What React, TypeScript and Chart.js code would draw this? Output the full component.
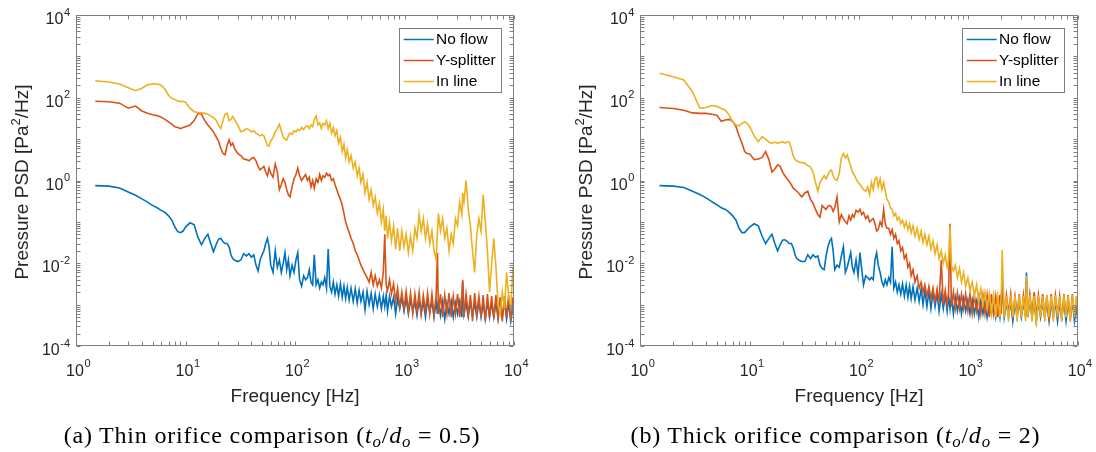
import React, { useEffect, useRef } from "react";
import { Chart, registerables } from "chart.js";

Chart.register(...registerables);

// Frequency grid (Hz) shared by all series
const FREQ = [
  1.5, 2, 2.5, 3, 3.5, 4, 4.5, 5, 5.5, 6,
  6.5, 7, 7.5, 8, 8.5, 9, 9.5, 10, 11, 12,
  13, 14, 15, 16, 17, 18, 19, 20, 21, 22,
  23, 24, 25, 26, 27, 28, 30, 32, 34, 36,
  38, 40, 42, 44, 46, 48, 50, 52, 54, 56,
  58, 60, 63, 66, 69, 72, 75, 78, 81, 84,
  87, 90, 94, 98, 102, 106, 110, 115, 120, 125,
  130, 135, 140, 145, 150, 156, 162, 168, 174, 180,
  187, 194, 201, 208, 216, 224, 232, 241, 250, 260,
  270, 280, 290, 300, 312, 325, 340, 355, 370, 385,
  400, 418, 436, 455, 475, 496, 518, 540, 565, 590,
  615, 640, 660, 680, 700, 730, 760, 795, 830, 865,
  905, 945, 990, 1035, 1085, 1135, 1190, 1245, 1300, 1360,
  1420, 1485, 1555, 1625, 1700, 1780, 1860, 1945, 2000, 2040,
  2130, 2230, 2330, 2440, 2550, 2670, 2790, 2920, 3050, 3190,
  3340, 3400, 3490, 3650, 3820, 4000, 4180, 4370, 4570, 4780,
  5000, 5230, 5470, 5720, 5980, 6250, 6540, 6840, 7150, 7480,
  7820, 8180, 8550, 8940, 9350, 9780, 10000,
];

// (a) Thin orifice
const THIN_NO_FLOW = [
  0.75, 0.73, 0.66, 0.53, 0.44, 0.36, 0.3, 0.25, 0.22, 0.19,
  0.17, 0.14, 0.11, 0.075, 0.058, 0.055, 0.06, 0.075, 0.095, 0.085,
  0.042, 0.028, 0.04, 0.05, 0.03, 0.019, 0.028, 0.038, 0.04, 0.033,
  0.03, 0.03, 0.025, 0.016, 0.013, 0.012, 0.011, 0.012, 0.017, 0.015,
  0.017, 0.014, 0.016, 0.009, 0.0065, 0.012, 0.016, 0.02, 0.03, 0.04,
  0.025, 0.009, 0.006, 0.02, 0.008, 0.012, 0.006, 0.01, 0.018, 0.007,
  0.012, 0.005, 0.009, 0.006, 0.012, 0.018, 0.004, 0.0028, 0.005, 0.004,
  0.0045, 0.007, 0.0035, 0.003, 0.016, 0.003, 0.004, 0.0025, 0.0035, 0.003,
  0.0045, 0.0025, 0.022, 0.0028, 0.002, 0.0035, 0.0018, 0.003, 0.0016, 0.0032,
  0.0015, 0.0028, 0.0014, 0.0026, 0.0013, 0.0025, 0.0012, 0.0024, 0.0011, 0.0022,
  0.0012, 0.002, 0.00075, 0.0021, 0.001, 0.0019, 0.0008, 0.0018, 0.0009, 0.0017,
  0.0008, 0.0016, 0.0009, 0.0017, 0.0007, 0.0016, 0.0009, 0.0015, 0.0006, 0.0014,
  0.0008, 0.0015, 0.0007, 0.0014, 0.0006, 0.0013, 0.0007, 0.0012, 0.00055, 0.0013,
  0.0006, 0.0012, 0.0005, 0.0013, 0.00065, 0.0012, 0.0005, 0.0012, 0.0006, 0.0013,
  0.00055, 0.0012, 0.00045, 0.0011, 0.0006, 0.0012, 0.0005, 0.0011, 0.0006, 0.0012,
  0.0005, 0.0035, 0.0006, 0.0011, 0.0005, 0.0012, 0.00055, 0.0011, 0.0005, 0.0012,
  0.0005, 0.0011, 0.00045, 0.0012, 0.0005, 0.0011, 0.0005, 0.0012, 0.00045, 0.0011,
  0.0005, 0.0012, 0.00045, 0.0011, 0.0004, 0.001, 0.0005,
];

const THIN_Y_SPLITTER = [
  82, 80, 74, 56, 63, 48, 42, 39, 37, 34,
  30, 26, 23, 20, 19, 18, 19, 20, 22, 28,
  42, 40, 28, 22, 18, 15, 11.5, 9, 6, 4.5,
  4.2, 7, 9.5, 7, 8, 6, 4.5, 4, 3.3, 3.2,
  3, 3.4, 3.6, 3, 2.2, 1.8, 2, 2.2, 1.6, 1.3,
  2, 1.5, 1.2, 2.5, 1.6, 0.6, 0.8, 1.1, 0.9, 0.6,
  0.45, 0.4, 0.7, 1.1, 1.4, 2, 1.3, 1, 1.2, 1.4,
  1, 1.2, 0.7, 1, 0.65, 1.1, 0.9, 1.4, 1, 1.3,
  1.2, 1.5, 1.3, 1.4, 1, 1.1, 0.8, 0.6, 0.45, 0.35,
  0.25, 0.16, 0.1, 0.075, 0.055, 0.04, 0.03, 0.02, 0.016, 0.012,
  0.009, 0.007, 0.0055, 0.0045, 0.0035, 0.006, 0.003, 0.005, 0.0028, 0.004,
  0.0025, 0.006, 0.05, 0.003, 0.0022, 0.004, 0.0018, 0.0032, 0.0012, 0.0025,
  0.0009, 0.002, 0.0008, 0.0021, 0.0007, 0.0019, 0.0006, 0.0018, 0.0007, 0.002,
  0.0006, 0.0017, 0.0007, 0.0019, 0.0006, 0.0018, 0.00055, 0.0017, 0.018, 0.0006,
  0.0018, 0.0005, 0.0017, 0.0006, 0.0019, 0.0005, 0.0016, 0.0006, 0.0018, 0.0005,
  0.0017, 0.004, 0.0005, 0.0018, 0.0006, 0.0017, 0.0004, 0.0019, 0.0006, 0.0016,
  0.0005, 0.0017, 0.0004, 0.0018, 0.0005, 0.0016, 0.00045, 0.0017, 0.0005, 0.0015,
  0.0004, 0.0016, 0.0005, 0.0017, 0.0004, 0.0015, 0.0007,
];

const THIN_IN_LINE = [
  257, 240, 215, 175, 148, 170, 205, 218, 215, 200,
  160, 115, 98, 90, 84, 80, 82, 78, 55, 46,
  44, 43, 42, 40, 36, 33, 29, 22, 18, 28,
  40, 42, 28, 30, 35, 30, 22, 15, 16, 18,
  17, 15, 16, 14, 13, 12, 13, 12, 9, 7,
  6.8, 9, 11, 15, 18, 23, 16, 11, 10, 9.5,
  12, 14, 13, 16, 15, 17, 16, 19, 17, 20,
  21, 18, 22, 20, 30, 36, 22, 25, 18, 24,
  22, 28, 18, 24, 14, 19, 12, 16, 8, 11,
  5, 7.5, 3.5, 5.5, 2.8, 4, 2, 2.8, 1.3, 2,
  0.9, 1.4, 0.5, 0.9, 0.35, 0.6, 0.25, 0.4, 0.16, 0.28,
  0.1, 0.2, 0.06, 0.14, 0.04, 0.1, 0.035, 0.08, 0.022, 0.07,
  0.02, 0.06, 0.025, 0.05, 0.018, 0.045, 0.02, 0.07, 0.04, 0.15,
  0.06, 0.12, 0.04, 0.09, 0.03, 0.06, 0.02, 0.012, 0.06, 0.16,
  0.06, 0.12, 0.04, 0.07, 0.02, 0.05, 0.03, 0.12, 0.08, 0.3,
  0.15, 0.5, 0.3, 1.0, 0.2, 0.08, 0.02, 0.006, 0.05, 0.12,
  0.06, 0.45, 0.1, 0.02, 0.002, 0.01, 0.04, 0.008, 0.001, 0.0006,
  0.002, 0.0008, 0.006, 0.0015, 0.0009, 0.008, 0.0015,
];

// (b) Thick orifice
const THICK_NO_FLOW = [
  0.75, 0.73, 0.68, 0.55, 0.46, 0.38, 0.31, 0.26, 0.22, 0.2,
  0.17, 0.14, 0.11, 0.07, 0.055, 0.055, 0.065, 0.075, 0.09, 0.08,
  0.045, 0.03, 0.04, 0.05, 0.03, 0.02, 0.028, 0.036, 0.037, 0.034,
  0.03, 0.03, 0.024, 0.016, 0.013, 0.012, 0.011, 0.011, 0.016, 0.013,
  0.016, 0.014, 0.015, 0.009, 0.0075, 0.007, 0.015, 0.025, 0.035, 0.04,
  0.02, 0.007, 0.009, 0.008, 0.015, 0.025, 0.006, 0.008, 0.012, 0.018,
  0.008, 0.006, 0.012, 0.005, 0.018, 0.007, 0.003, 0.005, 0.0045, 0.004,
  0.0045, 0.004, 0.012, 0.018, 0.009, 0.006, 0.0035, 0.0028, 0.004, 0.003,
  0.0045, 0.0035, 0.025, 0.0025, 0.0035, 0.002, 0.003, 0.0018, 0.0032, 0.0016,
  0.003, 0.0015, 0.0028, 0.0014, 0.0027, 0.0013, 0.0025, 0.0012, 0.0024, 0.001,
  0.0022, 0.0009, 0.0021, 0.0008, 0.002, 0.0009, 0.0019, 0.0007, 0.0018, 0.0008,
  0.0017, 0.0007, 0.0016, 0.0008, 0.0016, 0.0006, 0.0015, 0.0007, 0.0014, 0.0006,
  0.0014, 0.0007, 0.0013, 0.0006, 0.0013, 0.0006, 0.0012, 0.0005, 0.0012, 0.0006,
  0.0012, 0.0005, 0.0011, 0.0006, 0.0012, 0.0005, 0.0011, 0.0005, 0.0011, 0.005,
  0.0005, 0.0011, 0.0005, 0.0012, 0.0004, 0.0011, 0.0005, 0.0012, 0.0005, 0.0011,
  0.0005, 0.006, 0.0005, 0.0012, 0.0005, 0.0011, 0.0004, 0.0012, 0.0005, 0.0011,
  0.0005, 0.0012, 0.0004, 0.0011, 0.0005, 0.0012, 0.0004, 0.0011, 0.0005, 0.0012,
  0.0004, 0.0011, 0.0005, 0.0012, 0.0004, 0.001, 0.0004,
];

const THICK_Y_SPLITTER = [
  58, 55, 50, 43, 42, 42, 40, 38, 27, 29,
  30, 27, 20, 12, 8, 5, 4.5, 4.4, 3.2, 3.3,
  3.6, 5, 3.2, 1.6, 1.9, 2.4, 2.2, 1.6, 1.3, 1.1,
  0.95, 0.8, 0.65, 0.6, 0.55, 0.5, 0.4, 0.5, 0.55, 0.35,
  0.28, 0.2, 0.15, 0.13, 0.25, 0.22, 0.2, 0.24, 0.25, 0.23,
  0.18, 0.22, 0.4, 0.1, 0.15, 0.12, 0.1, 0.09, 0.14, 0.11,
  0.15, 0.13, 0.19, 0.17, 0.2, 0.15, 0.17, 0.12, 0.14, 0.1,
  0.11, 0.12, 0.09, 0.06, 0.065, 0.1, 0.08, 0.2, 0.09, 0.07,
  0.07, 0.05, 0.065, 0.04, 0.05, 0.03, 0.035, 0.02, 0.024, 0.013,
  0.016, 0.008, 0.01, 0.005, 0.007, 0.0035, 0.005, 0.0025, 0.0035, 0.002,
  0.003, 0.0016, 0.0028, 0.0014, 0.0025, 0.0012, 0.0024, 0.0011, 0.012, 0.001,
  0.0022, 0.001, 0.002, 0.09, 0.0009, 0.002, 0.0008, 0.0019, 0.0008, 0.0018,
  0.0008, 0.0018, 0.0007, 0.0018, 0.0006, 0.0017, 0.0007, 0.0016, 0.0006, 0.0017,
  0.0006, 0.0017, 0.0005, 0.0018, 0.0006, 0.0016, 0.0005, 0.0017, 0.0006, 0.004,
  0.0005, 0.0017, 0.0006, 0.0018, 0.0005, 0.0016, 0.0006, 0.0018, 0.0005, 0.0017,
  0.0006, 0.004, 0.0005, 0.0018, 0.0006, 0.002, 0.0005, 0.0017, 0.0006, 0.0018,
  0.0005, 0.0017, 0.0004, 0.0018, 0.0005, 0.0017, 0.0006, 0.0016, 0.0004, 0.0018,
  0.0005, 0.0017, 0.0004, 0.0018, 0.0005, 0.0016, 0.0006,
];

const THICK_IN_LINE = [
  390, 320, 270, 140, 56, 58, 65, 62, 55, 50,
  38, 26, 22, 21, 24, 26, 24, 20, 12, 8.7,
  11.5, 10, 8.5, 7.9, 8.5, 8, 8.3, 8.7, 8, 8.5,
  8.5, 6, 4, 3.2, 3, 2.8, 2.7, 2.6, 2.3, 2.1,
  1.6, 0.9, 0.55, 0.9, 1.1, 1.3, 1.1, 1.4, 1.7, 1.8,
  1.3, 1.1, 1.0, 1.5, 3.5, 4.5, 3.5, 4.2, 3, 2.2,
  1.6, 1.4, 1.1, 0.9, 0.8, 0.7, 0.6, 0.55, 0.7, 0.45,
  0.9, 0.6, 1.1, 1.2, 0.7, 1.1, 0.6, 0.9, 0.55, 0.35,
  0.3, 0.22, 0.2, 0.14, 0.16, 0.11, 0.13, 0.09, 0.11, 0.075,
  0.1, 0.065, 0.09, 0.055, 0.08, 0.045, 0.07, 0.038, 0.06, 0.032,
  0.05, 0.028, 0.045, 0.022, 0.035, 0.017, 0.028, 0.013, 0.02, 0.01,
  0.016, 0.008, 0.012, 0.08, 0.009, 0.0065, 0.009, 0.0045, 0.0075, 0.0035,
  0.006, 0.0028, 0.0045, 0.0022, 0.0035, 0.0016, 0.003, 0.0012, 0.0024, 0.001,
  0.002, 0.0008, 0.0018, 0.0006, 0.0017, 0.0005, 0.0016, 0.0005, 0.0017, 0.021,
  0.0005, 0.0016, 0.0004, 0.0017, 0.0005, 0.0016, 0.0004, 0.0017, 0.0005, 0.0016,
  0.0004, 0.005, 0.0005, 0.0017, 0.0004, 0.0016, 0.0003, 0.0017, 0.0005, 0.0016,
  0.0004, 0.0017, 0.0005, 0.0016, 0.0004, 0.0017, 0.0005, 0.0016, 0.0004, 0.0017,
  0.0005, 0.0016, 0.0004, 0.0017, 0.0005, 0.0016, 0.0008,
];

const SERIES_LABELS = ["No flow", "Y-splitter", "In line"];
const SERIES_COLORS = ["#0072BD", "#D95319", "#EDB120"];
const X_TICK_EXPONENTS = [0, 1, 2, 3, 4];
const Y_TICK_EXPONENTS = [-4, -2, 0, 2, 4];
const X_TITLE = "Frequency [Hz]";
const Y_TITLE_PARTS = ["Pressure PSD [Pa", "2", "/Hz]"];

const SANS = '"Liberation Sans", Arial, Helvetica, sans-serif';
const TEXT_COLOR = "#262626";
const AXIS_COLOR = "#7f7f7f";
const TICK_LEN = 4;

function drawPow(ctx: CanvasRenderingContext2D, x: number, baseY: number, exp: number, align: "center" | "right") {
  ctx.textAlign = "left";
  ctx.textBaseline = "alphabetic";
  ctx.font = `16px ${SANS}`;
  const base = "10";
  const wb = ctx.measureText(base).width;
  ctx.font = `11px ${SANS}`;
  const sup = String(exp);
  const ws = ctx.measureText(sup).width;
  const xb = align === "center" ? x - wb / 2 - 1 : x - wb - ws - 0.5;
  ctx.font = `16px ${SANS}`;
  ctx.fillText(base, xb, baseY);
  ctx.font = `11px ${SANS}`;
  ctx.fillText(sup, xb + wb + 0.5, baseY - 8.5);
}

const matlabAxes = {
  id: "matlabAxes",
  afterDatasetsDraw(chart: any) {
    const ctx: CanvasRenderingContext2D = chart.ctx;
    const area = chart.chartArea;
    const xs = chart.scales.x;
    const ys = chart.scales.y;
    const L = Math.round(area.left) + 0.5;
    const R = Math.round(area.right) - 0.5;
    const T = Math.round(area.top) + 0.5;
    const B = Math.round(area.bottom) - 0.5;
    ctx.save();
    ctx.strokeStyle = AXIS_COLOR;
    ctx.lineWidth = 1;
    ctx.beginPath();
    ctx.rect(L, T, R - L, B - T);
    for (let k = 0; k <= 4; k++) {
      for (let m = 1; m <= 9; m++) {
        const v = m * Math.pow(10, k);
        if (v > 10000.5) break;
        const px = Math.round(xs.getPixelForValue(v)) + 0.5;
        ctx.moveTo(px, B);
        ctx.lineTo(px, B - TICK_LEN);
        ctx.moveTo(px, T);
        ctx.lineTo(px, T + TICK_LEN);
      }
    }
    for (let k = -4; k <= 4; k++) {
      for (let m = 1; m <= 9; m++) {
        const v = m * Math.pow(10, k);
        if (v > 10000.5) break;
        const py = Math.round(ys.getPixelForValue(v)) + 0.5;
        ctx.moveTo(L, py);
        ctx.lineTo(L + TICK_LEN, py);
        ctx.moveTo(R, py);
        ctx.lineTo(R - TICK_LEN, py);
      }
    }
    ctx.stroke();

    ctx.fillStyle = TEXT_COLOR;
    X_TICK_EXPONENTS.forEach((e) => {
      const px = xs.getPixelForValue(Math.pow(10, e));
      drawPow(ctx, px, area.bottom + 29.5, e, "center");
    });
    Y_TICK_EXPONENTS.forEach((e) => {
      const py = ys.getPixelForValue(Math.pow(10, e));
      drawPow(ctx, area.left - 6, py + 9, e, "right");
    });

    // axis titles
    ctx.font = `19px ${SANS}`;
    ctx.textAlign = "center";
    ctx.textBaseline = "alphabetic";
    ctx.fillText(X_TITLE, (area.left + area.right) / 2, area.bottom + 56);

    ctx.save();
    ctx.translate(area.left - 48, (area.top + area.bottom) / 2 + 1.5);
    ctx.rotate(-Math.PI / 2);
    ctx.textAlign = "left";
    const parts = [
      { t: Y_TITLE_PARTS[0], size: 19, dy: 0 },
      { t: Y_TITLE_PARTS[1], size: 13, dy: -8 },
      { t: Y_TITLE_PARTS[2], size: 19, dy: 0 },
    ];
    let total = 0;
    parts.forEach((p) => {
      ctx.font = `${p.size}px ${SANS}`;
      total += ctx.measureText(p.t).width;
    });
    let cx = -total / 2;
    parts.forEach((p) => {
      ctx.font = `${p.size}px ${SANS}`;
      ctx.fillText(p.t, cx, p.dy);
      cx += ctx.measureText(p.t).width;
    });
    ctx.restore();

    // legend
    const lw = 102;
    const lh = 64;
    const lx = Math.round(area.right - 13.3 - lw);
    const ly = Math.round(area.top + 13);
    ctx.fillStyle = "#ffffff";
    ctx.fillRect(lx, ly, lw, lh);
    ctx.strokeStyle = AXIS_COLOR;
    ctx.lineWidth = 1;
    ctx.strokeRect(lx + 0.5, ly + 0.5, lw, lh);
    chart.data.datasets.forEach((ds: any, i: number) => {
      const cy = ly + 11.5 + i * 21;
      ctx.strokeStyle = ds.borderColor;
      ctx.lineWidth = 1.5;
      ctx.beginPath();
      ctx.moveTo(lx + 4.7, cy);
      ctx.lineTo(lx + 34.7, cy);
      ctx.stroke();
      ctx.fillStyle = "#000000";
      ctx.font = `15.5px ${SANS}`;
      ctx.textAlign = "left";
      ctx.textBaseline = "middle";
      ctx.fillText(ds.label, lx + 37, cy + 0.5);
    });
    ctx.restore();
  },
};

type PanelProps = { left: number; values: number[][]; padLeft: number; padRight: number };

function Panel({ left, values, padLeft, padRight }: PanelProps) {
  const ref = useRef<HTMLCanvasElement | null>(null);
  useEffect(() => {
    const canvas = ref.current;
    if (!canvas) return;
    const chart = new Chart(canvas, {
      type: "line",
      data: {
        datasets: SERIES_LABELS.map((label, i) => ({
          label,
          data: FREQ.map((f, j) => ({ x: f, y: values[i][j] })),
          borderColor: SERIES_COLORS[i],
          backgroundColor: SERIES_COLORS[i],
          borderWidth: 1.6,
          pointRadius: 0,
          tension: 0,
          fill: false,
          order: 2 - i,
        })),
      },
      options: {
        responsive: false,
        animation: false,
        devicePixelRatio: 1,
        events: [],
        layout: { padding: { left: padLeft, right: padRight, top: 15, bottom: 106 } },
        scales: {
          x: { type: "logarithmic", min: 1, max: 10000, display: false },
          y: { type: "logarithmic", min: 1e-4, max: 1e4, display: false },
        },
        plugins: { legend: { display: false }, tooltip: { enabled: false } },
      },
      plugins: [matlabAxes],
    } as any);
    return () => chart.destroy();
  }, []);
  return (
    <canvas
      ref={ref}
      width={548}
      height={452}
      style={{ position: "absolute", left, top: 0, width: 548, height: 452 }}
    />
  );
}

const captionStyle: React.CSSProperties = {
  position: "absolute",
  top: 423,
  width: 600,
  textAlign: "center",
  fontFamily: '"Liberation Serif", "Times New Roman", serif',
  fontSize: 24,
  lineHeight: "24px",
  letterSpacing: "0.8px",
  color: "#000",
  whiteSpace: "nowrap",
};

const subStyle: React.CSSProperties = { fontSize: "0.7em", fontStyle: "italic", verticalAlign: "-0.25em", lineHeight: 0 };

export default function App() {
  return (
    <div style={{ position: "fixed", left: 0, top: 0, width: 1096, height: 452, background: "#ffffff", overflow: "hidden" }}>
      <Panel left={0} values={[THIN_NO_FLOW, THIN_Y_SPLITTER, THIN_IN_LINE]} padLeft={76} padRight={34} />
      <Panel left={548} values={[THICK_NO_FLOW, THICK_Y_SPLITTER, THICK_IN_LINE]} padLeft={92.3} padRight={18.3} />
      <div style={{ ...captionStyle, left: 272 - 300 }}>
        (a) Thin orifice comparison (<i>t</i><span style={subStyle}>o</span>/<i>d</i><span style={subStyle}>o</span> = 0.5)
      </div>
      <div style={{ ...captionStyle, left: 835.5 - 300 }}>
        (b) Thick orifice comparison (<i>t</i><span style={subStyle}>o</span>/<i>d</i><span style={subStyle}>o</span> = 2)
      </div>
    </div>
  );
}
